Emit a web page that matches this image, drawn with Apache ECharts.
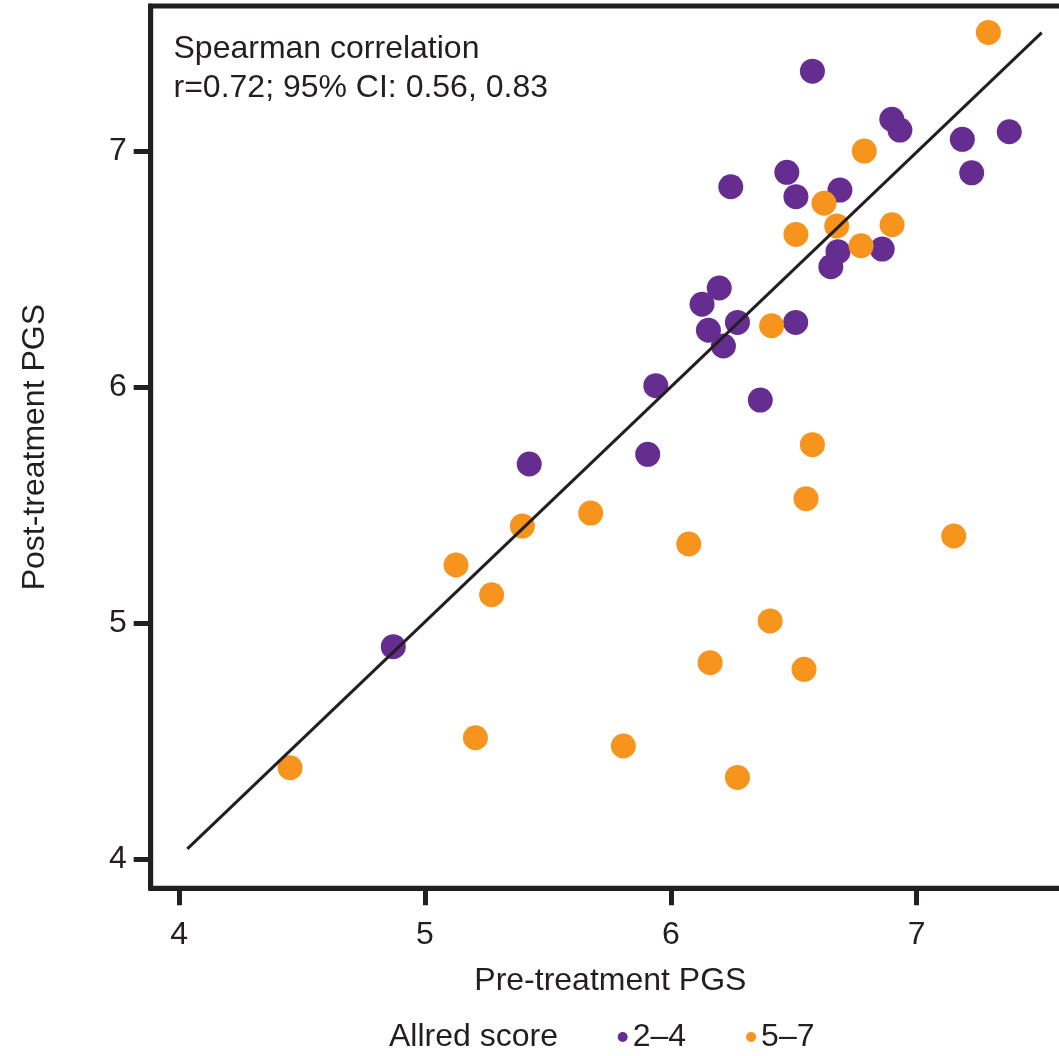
<!DOCTYPE html>
<html>
<head>
<meta charset="utf-8">
<script src="https://cdn.jsdelivr.net/npm/echarts@6/dist/echarts.min.js"></script>
<style>
  html, body { margin: 0; padding: 0; background: #ffffff; }
  #chart { width: 1059px; height: 1056px; }
</style>
</head>
<body>
<div id="chart"></div>
<script>
// Pre- vs post-treatment PGS, grouped by Allred score
const allredLowPre  = [6.576, 6.899, 6.932, 7.377, 7.186, 7.224, 6.472, 6.244, 6.509, 6.688, 6.680, 6.651,
                       6.860, 6.197, 6.127, 6.271, 6.153, 6.214, 6.508, 5.939, 6.364, 5.906, 5.424, 4.871];
const allredLowPost = [7.340, 7.136, 7.090, 7.083, 7.051, 6.909, 6.911, 6.850, 6.808, 6.836, 6.575, 6.511,
                       6.586, 6.421, 6.352, 6.275, 6.242, 6.175, 6.275, 6.007, 5.946, 5.716, 5.675, 4.901];

const allredHighPre  = [7.292, 6.787, 6.623, 6.509, 6.675, 6.900, 6.774, 6.410, 6.576, 6.550, 7.151, 5.674,
                        5.396, 6.073, 5.126, 5.271, 6.404, 6.160, 6.542, 5.205, 5.807, 6.271, 4.451];
const allredHighPost = [7.504, 7.001, 6.780, 6.648, 6.684, 6.689, 6.600, 6.261, 5.757, 5.528, 5.370, 5.467,
                        5.412, 5.336, 5.247, 5.121, 5.010, 4.833, 4.805, 4.515, 4.480, 4.347, 4.388];

// Fitted line endpoints
const fitLine = [[4.033, 4.044], [7.509, 7.503]];

const groupNames = ['2–4', '5–7'];
const tickValues = [4, 5, 6, 7];
const xTitle = 'Pre-treatment PGS';
const yTitle = 'Post-treatment PGS';
const legendTitle = 'Allred score';
const statLines = ['Spearman correlation', 'r=0.72; 95% CI: 0.56, 0.83'];

const INK = '#231f20';
const PURPLE = '#652d90';
const ORANGE = '#f7941d';
const FONT = '"Liberation Sans", Arial, Helvetica, sans-serif';

const zip = (a, b) => a.map((v, i) => [v, b[i]]);

const chart = echarts.init(document.getElementById('chart'), null, { renderer: 'canvas' });

const axisCommon = {
  type: 'value',
  splitLine: { show: false },
  axisLine: { show: true, lineStyle: { color: INK, width: 5 } },
  axisTick: { show: true, inside: false, length: 17, lineStyle: { color: INK, width: 5 }, customValues: tickValues },
  axisLabel: { color: INK, fontSize: 32, fontFamily: FONT, customValues: tickValues },
  nameLocation: 'middle',
  nameTextStyle: { color: INK, fontSize: 32, fontFamily: FONT }
};

chart.setOption({
  animation: false,
  backgroundColor: '#ffffff',
  textStyle: { fontFamily: FONT },
  grid: {
    left: 150.7, top: 6, width: 919.3, height: 882.3,
    containLabel: false,
    outerBoundsMode: 'none',
    show: true, borderColor: INK, borderWidth: 5, backgroundColor: 'transparent'
  },
  xAxis: Object.assign({}, axisCommon, {
    min: 3.884, max: 7.624,
    name: xTitle, nameGap: 77,
    axisLabel: Object.assign({}, axisCommon.axisLabel, { margin: 31 })
  }),
  yAxis: Object.assign({}, axisCommon, {
    min: 3.877, max: 7.616,
    name: yTitle, nameGap: 100,
    axisLabel: Object.assign({}, axisCommon.axisLabel, { margin: 24 })
  }),
  legend: {
    data: groupNames,
    left: 617.7, top: 1021,
    padding: 0,
    itemGap: 60,
    itemWidth: 10, itemHeight: 10,
    icon: 'circle',
    textStyle: { color: INK, fontSize: 32, fontFamily: FONT }
  },
  graphic: [
    {
      type: 'text', x: 173.5, y: 30,
      style: {
        text: statLines.join('\n'),
        font: '32px ' + FONT, fill: INK,
        lineHeight: 39, verticalAlign: 'top', align: 'left'
      }
    },
    {
      type: 'text', x: 389, y: 1037,
      style: {
        text: legendTitle,
        font: '32px ' + FONT, fill: INK,
        verticalAlign: 'middle', align: 'left'
      }
    }
  ],
  series: [
    {
      name: groupNames[0], type: 'scatter',
      data: zip(allredLowPre, allredLowPost),
      symbol: 'circle', symbolSize: 25,
      itemStyle: { color: PURPLE, opacity: 1 },
      z: 3
    },
    {
      name: groupNames[1], type: 'scatter',
      data: zip(allredHighPre, allredHighPost),
      symbol: 'circle', symbolSize: 25,
      itemStyle: { color: ORANGE, opacity: 1 },
      z: 3
    },
    {
      name: 'fit', type: 'line',
      data: fitLine,
      symbol: 'none',
      lineStyle: { color: INK, width: 3 },
      z: 5
    }
  ]
});
</script>
</body>
</html>
